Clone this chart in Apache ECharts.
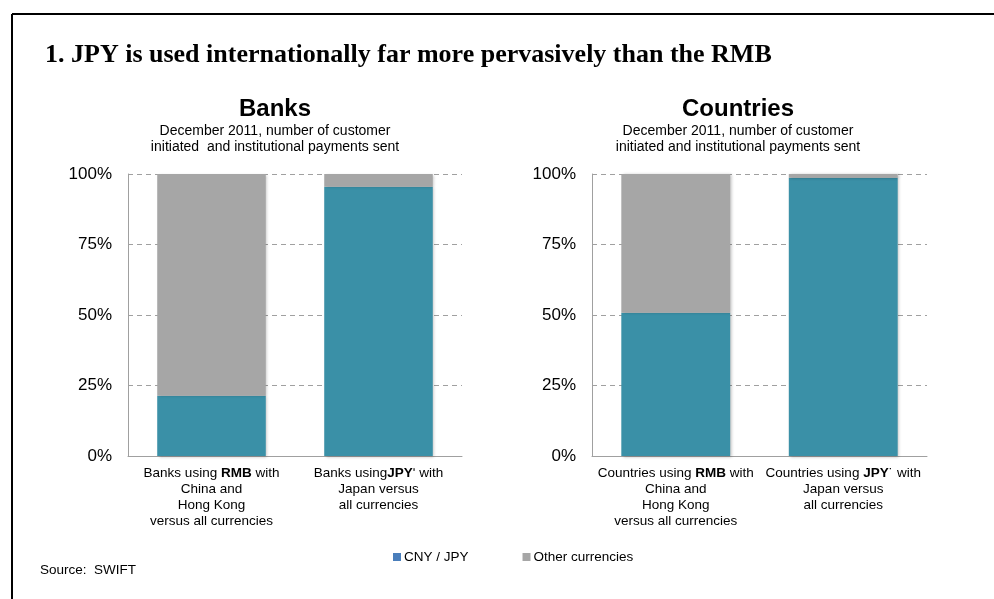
<!DOCTYPE html>
<html><head><meta charset="utf-8">
<script src="https://cdn.jsdelivr.net/npm/echarts@6/dist/echarts.min.js"></script>
<style>html,body{margin:0;padding:0;background:#fff}#c{width:994px;height:599px}</style>
</head><body><div id="c"></div>
<script>
const banksCategories = ['Banks using {b|RMB} with\nChina and\nHong Kong\nversus all currencies', 'Banks using{b|JPY}ʹ with\nJapan versus\nall currencies'];
const countriesCategories = ['Countries using {b|RMB} with\nChina and\nHong Kong\nversus all currencies', 'Countries using {b|JPY}˙ with\nJapan versus\nall currencies'];
const banksCnyJpy = [21.4, 95.5];
const banksOther = [78.6, 4.5];
const countriesCnyJpy = [50.8, 98.7];
const countriesOther = [49.2, 1.3];
const yTicks = [0, 25, 50, 75, 100];

const teal = '#3A90A7', grey = '#A6A6A6';
const chart = echarts.init(document.getElementById('c'));
const axisFont = 'Arial, "Liberation Sans", sans-serif';
function xAxis(cats, gi) {
  return {type: 'category', gridIndex: gi, data: cats,
    axisLine: {show: true, lineStyle: {color: '#A0A0A0', width: 1}},
    axisTick: {show: false},
    axisLabel: {interval: 0, color: '#000', fontFamily: axisFont, fontSize: 13.5, lineHeight: 16, margin: 9,
      rich: {b: {fontWeight: 'bold', fontFamily: axisFont, fontSize: 13.5, color: '#000', lineHeight: 16}}}};
}
function yAxis(gi) {
  return {type: 'value', gridIndex: gi, min: 0, max: 100, interval: 25,
    axisLine: {show: true, lineStyle: {color: '#A0A0A0', width: 1}},
    axisTick: {show: false},
    splitLine: {show: true, lineStyle: {color: '#A0A0A0', type: [5, 4], width: 1}},
    axisLabel: {color: '#000', fontFamily: axisFont, fontSize: 17, margin: 16, formatter: v => yTicks.includes(v) ? v + '%' : ''}};
}
const shadow = {shadowBlur: 3, shadowOffsetX: 1.5, shadowOffsetY: 0.5, shadowColor: 'rgba(0,0,0,0.25)'};
function bar(name, data, gi, color, stack) {
  return {name, type: 'bar', stack, xAxisIndex: gi, yAxisIndex: gi, data, barWidth: '65%',
    itemStyle: Object.assign({color}, shadow), silent: true, animation: false};
}
chart.setOption({
  animation: false,
  graphic: [
    {type: 'line', shape: {x1: 12, y1: 14, x2: 994, y2: 14}, style: {stroke: '#000', lineWidth: 2}},
    {type: 'line', shape: {x1: 12, y1: 14, x2: 12, y2: 599}, style: {stroke: '#000', lineWidth: 2}},
    {type: 'text', left: 45, top: 42, style: {text: '1. JPY is used internationally far more pervasively than the RMB', font: 'bold 26px "Liberation Serif", "Times New Roman", serif', fill: '#000'}},
    {type: 'text', left: 40, top: 563, style: {text: 'Source:  SWIFT', font: '13.5px Arial, "Liberation Sans", sans-serif', fill: '#000'}}
  ],
  title: [
    {text: 'Banks', subtext: 'December 2011, number of customer\ninitiated  and institutional payments sent', left: 270, top: 92, textAlign: 'center', itemGap: 2,
      textStyle: {fontFamily: axisFont, fontSize: 24, fontWeight: 'bold', color: '#000'},
      subtextStyle: {fontFamily: axisFont, fontSize: 14, color: '#000', lineHeight: 16, align: 'center'}},
    {text: 'Countries', subtext: 'December 2011, number of customer\ninitiated and institutional payments sent', left: 733, top: 92, textAlign: 'center', itemGap: 2,
      textStyle: {fontFamily: axisFont, fontSize: 24, fontWeight: 'bold', color: '#000'},
      subtextStyle: {fontFamily: axisFont, fontSize: 14, color: '#000', lineHeight: 16, align: 'center'}}
  ],
  legend: {left: 388, top: 545, itemWidth: 8, itemHeight: 8, itemGap: 54, icon: 'rect',
    textStyle: {fontFamily: axisFont, fontSize: 13.5, color: '#000', padding: [0, 0, 0, -2]},
    data: [{name: 'CNY / JPY', itemStyle: {color: '#4A7EBB'}}, {name: 'Other currencies', itemStyle: {color: grey}}]},
  grid: [
    {left: 128, right: 532, top: 174, bottom: 143},
    {left: 592, right: 67, top: 174, bottom: 143}
  ],
  xAxis: [xAxis(banksCategories, 0), xAxis(countriesCategories, 1)],
  yAxis: [yAxis(0), yAxis(1)],
  series: [
    bar('CNY / JPY', banksCnyJpy, 0, teal, 'a'),
    bar('Other currencies', banksOther, 0, grey, 'a'),
    bar('CNY / JPY', countriesCnyJpy, 1, teal, 'b'),
    bar('Other currencies', countriesOther, 1, grey, 'b')
  ]
});
</script></body></html>
